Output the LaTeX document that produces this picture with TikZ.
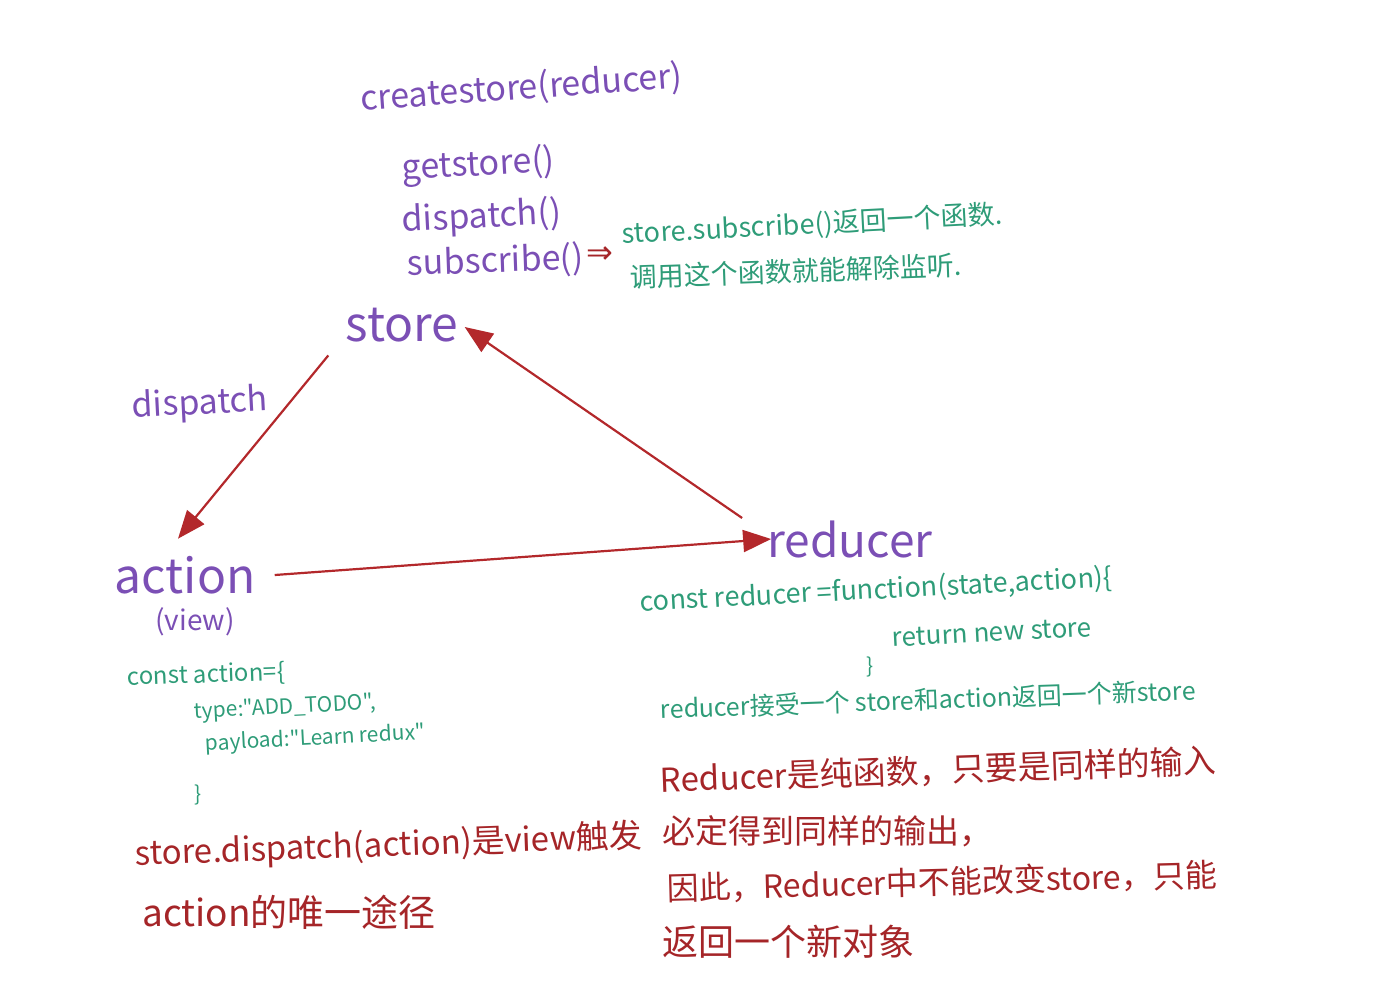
\documentclass[tikz,border=0pt]{standalone}
\usepackage{fontspec}
\setmainfont{Noto Sans CJK SC}[Ligatures=TeXOff]
\newfontfamily\symfont{DejaVu Sans}
\usetikzlibrary{arrows.meta, positioning}
\definecolor{inkpurple}{HTML}{7B4FB5}
\definecolor{inkgreen}{HTML}{2E9C78}
\definecolor{inkred}{HTML}{A52528}
\definecolor{arrowred}{HTML}{B3282B}
\tikzstyle{ink} = [inner sep=1pt, anchor=west]
\tikzstyle{part} = [inner sep=1pt, text=inkpurple, font=\fontsize{24}{24}\selectfont]
\tikzstyle{api} = [ink, text=inkpurple, font=\fontsize{17}{17}\selectfont]
\tikzstyle{code} = [ink, text=inkgreen, font=\fontsize{13.5}{13.5}\selectfont]
\tikzstyle{smallcode} = [ink, text=inkgreen, font=\fontsize{10.5}{10.5}\selectfont]
\tikzstyle{note} = [ink, text=inkred, font=\fontsize{16.5}{16.5}\selectfont]
\tikzstyle{arrow} = [draw=arrowred, line width=1.1pt, -{Triangle[length=14pt, width=11pt]}]

\begin{document}
\begin{tikzpicture}[x=0.5pt, y=0.5pt, yscale=-1]
\useasboundingbox (0, 0) rectangle (1381, 992);

% store and its api
\node at (358, 100) (create) [api, rotate=4] {createstore(reducer)};
\node at (400, 170) (getstore) [api, rotate=3] {getstore()};
\node at (400, 222) (dispatchfn) [api, rotate=3] {dispatch()};
\node at (405, 265) (subscribefn) [api, rotate=2] {subscribe()};
\node at (600, 255) (implies) [text=inkred, font=\symfont\fontsize{16}{16}\selectfont] {⇒};
\node at (620, 235) (subnoteA) [code, rotate=3] {store.subscribe()返回一个函数.};
\node at (628, 277) (subnoteB) [code, rotate=2] {调用这个函数就能解除监听.};
\node at (402, 325) (store) [part] {store};

% action side
\node at (130, 408) (dispatchlbl) [api, rotate=3] {dispatch};
\node at (185, 575) (action) [part] {action};
\node at (195, 622) (view) [part, font=\fontsize{14}{14}\selectfont] {(view)};
\node at (125, 678) (actioncode) [code, font=\fontsize{12}{12}\selectfont, rotate=2] {const action=\{};
\node at (192, 713) (typeline) [smallcode, rotate=3] {type:"ADD\_TODO",};
\node at (203, 745) (payloadline) [smallcode, rotate=3] {payload:"Learn redux"};
\node at (198, 795) (actionbrace) [smallcode, anchor=center] {\}};
\node at (133, 855) (viewnoteA) [note, rotate=2] {store.dispatch(action)是view触发};
\node at (140, 912) (viewnoteB) [note, font=\fontsize{18.5}{18.5}\selectfont] {action的唯一途径};

% reducer side
\node at (850, 539) (reducer) [part, font=\fontsize{23}{23}\selectfont] {reducer};
\node at (638, 603) (reducercode) [code, rotate=3] {const reducer =function(state,action)\{};
\node at (890, 638) (returnline) [code, font=\fontsize{13}{13}\selectfont, rotate=3] {return new store};
\node at (870, 667) (reducerbrace) [smallcode, anchor=center] {\}};
\node at (658, 709) (reducernote) [code, font=\fontsize{12.5}{12.5}\selectfont, rotate=2] {reducer接受一个 store和action返回一个新store};
\node at (658, 780) (pureA) [note, rotate=2] {Reducer是纯函数，只要是同样的输入};
\node at (660, 831) (pureB) [note] {必定得到同样的输出，};
\node at (665, 889) (pureC) [note, font=\fontsize{16}{16}\selectfont, rotate=1.5] {因此，Reducer中不能改变store，只能};
\node at (660, 942) (pureD) [note, font=\fontsize{18}{18}\selectfont] {返回一个新对象};

% flow
\draw [arrow] ([xshift=-7.5pt, yshift=5.5pt]store.south west) -- ([xshift=-3.5pt, yshift=-7.5pt]action.north);
\draw [arrow] ([xshift=-11.5pt, yshift=0pt]reducer.north west) -- ([xshift=2pt, yshift=1pt]store.east);
\draw [arrow] ([xshift=8.5pt]action.east) -- ([xshift=3pt]reducer.west);

\end{tikzpicture}
\end{document}
